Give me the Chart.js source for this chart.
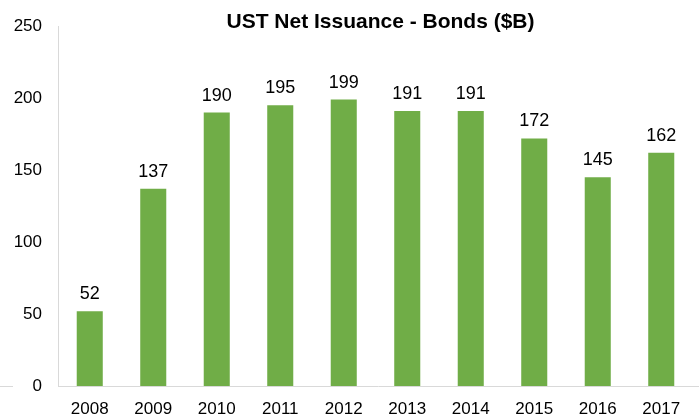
<!DOCTYPE html>
<html>
<head>
<meta charset="utf-8">
<script src="https://cdn.jsdelivr.net/npm/chart.js@4"></script>
<style>
  html, body { margin: 0; padding: 0; background: #fff; }
  #wrap { width: 699px; height: 420px; }
</style>
</head>
<body>
<div id="wrap"><canvas id="chart" width="699" height="420"></canvas></div>
<script>
const years = ['2008', '2009', '2010', '2011', '2012', '2013', '2014', '2015', '2016', '2017'];
const issuance = [52, 137, 190, 195, 199, 191, 191, 172, 145, 162];
const yTicks = [0, 50, 100, 150, 200, 250];
const chartTitle = 'UST Net Issuance - Bonds ($B)';

const FONT = 'Liberation Sans, Arial, sans-serif';

// etiquetas encima de las barras, titulo y linea del eje x
const extras = {
    id: 'extras',
    afterDatasetsDraw(chart) {
        const ctx = chart.ctx;
        const meta = chart.getDatasetMeta(0);
        const area = chart.chartArea;
        ctx.save();
        ctx.fillStyle = '#000';
        ctx.font = '18px ' + FONT;
        ctx.textAlign = 'center';
        ctx.textBaseline = 'bottom';
        meta.data.forEach((bar, i) => {
            ctx.fillText(String(issuance[i]), bar.x, bar.y - 8);
        });
        // titulo
        ctx.font = 'bold 21px ' + FONT;
        ctx.textBaseline = 'middle';
        ctx.fillText(chartTitle, (area.left + area.right) / 2 + 5, 22);
        // eje x (un trocito a la izquierda y el resto desde el eje y)
        const y0 = Math.round(chart.scales.y.getPixelForValue(0)) + 0.5;
        ctx.strokeStyle = '#D9D9D9';
        ctx.lineWidth = 1;
        ctx.beginPath();
        ctx.moveTo(0, y0);
        ctx.lineTo(13, y0);
        ctx.moveTo(area.left, y0);
        ctx.lineTo(chart.width, y0);
        ctx.stroke();
        ctx.restore();
    }
};

new Chart(document.getElementById('chart'), {
    type: 'bar',
    data: {
        labels: years,
        datasets: [{
            data: issuance,
            backgroundColor: '#70AD47',
            barPercentage: 0.41,
            categoryPercentage: 1.0,
        }]
    },
    options: {
        responsive: false,
        animation: false,
        layout: { padding: { top: 26, right: 6, left: 0, bottom: 0 } },
        plugins: {
            legend: { display: false },
            tooltip: { enabled: false },
        },
        scales: {
            x: {
                grid: { display: false, drawTicks: false },
                border: { display: false },
                ticks: { color: '#000', font: { family: FONT, size: 17 }, padding: 13, maxRotation: 0 },
                afterFit: (scale) => { scale.height = 34; },
            },
            y: {
                min: 0,
                max: 250,
                afterBuildTicks: (scale) => { scale.ticks = yTicks.map((v) => ({ value: v })); },
                grid: { display: false, drawTicks: false },
                border: { display: true, color: '#D9D9D9', width: 1 },
                ticks: { color: '#000', font: { family: FONT, size: 17 }, padding: 16 },
                afterFit: (scale) => { scale.width = 58; },
            },
        },
    },
    plugins: [extras],
});
</script>
</body>
</html>
